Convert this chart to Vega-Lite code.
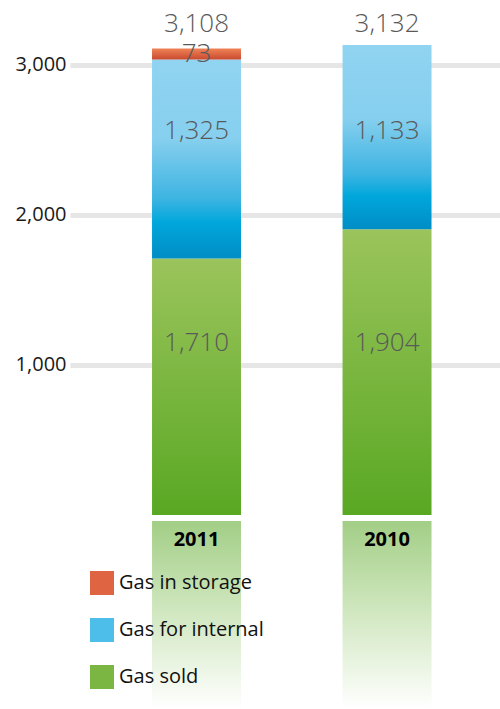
{
  "$schema": "https://vega.github.io/schema/vega-lite/v6.json",
  "width": 430,
  "height": 709,
  "autosize": {"type": "none"},
  "padding": {"left": 70, "top": 0, "right": 0, "bottom": 0},
  "background": "white",
  "config": {
    "view": {"stroke": null},
    "font": "Open Sans"
  },
  "datasets": {
    "gas": [
      {"year": "2011", "series": "Gas sold", "value": 1710, "label": "1,710"},
      {"year": "2011", "series": "Gas for internal", "value": 1325, "label": "1,325"},
      {"year": "2011", "series": "Gas in storage", "value": 73, "label": "73"},
      {"year": "2010", "series": "Gas sold", "value": 1904, "label": "1,904"},
      {"year": "2010", "series": "Gas for internal", "value": 1228, "label": "1,133"}
    ]
  },
  "data": {"name": "gas"},
  "encoding": {
    "x": {
      "field": "year",
      "type": "nominal",
      "sort": ["2011", "2010"],
      "axis": null,
      "scale": {"paddingInner": 0.533, "paddingOuter": 0.395, "align": 0.545}
    }
  },
  "layer": [
    {
      "mark": {"type": "bar", "opacity": 0},
      "encoding": {
        "y": {
          "field": "value",
          "type": "quantitative",
          "stack": "zero",
          "scale": {"domain": [-1293, 3432], "nice": false, "zero": false},
          "axis": {"values": [1000, 2000, 3000], "format": ",d", "title": null, "labelFontSize": 20, "labelColor": "#1a1a1a", "labelPadding": 4, "ticks": false, "domain": false, "gridColor": "#e6e6e6", "gridWidth": 5}
        },
        "color": {
          "field": "series",
          "type": "nominal",
          "scale": {
            "domain": ["Gas in storage", "Gas for internal", "Gas sold"],
            "range": ["#de6442", "#4dbde9", "#7cb642"]
          },
          "legend": {
            "title": null,
            "orient": "none",
            "legendX": 20,
            "legendY": 571,
            "symbolType": "square",
            "symbolSize": 576,
            "symbolStrokeWidth": 0,
            "symbolOpacity": 1,
            "labelFontSize": 20,
            "labelFont": "Open Sans",
            "labelFontWeight": 500,
            "labelColor": "#111111",
            "rowPadding": 23,
            "labelOffset": 5,
            "padding": 0
          }
        },
        "order": {"field": "value", "sort": "descending"}
      }
    },
    {
      "mark": {"type": "bar"},
      "encoding": {
        "y": {
          "field": "value",
          "type": "quantitative",
          "stack": "zero",
          "axis": {"values": [1000, 2000, 3000], "format": ",d", "title": null, "labelFontSize": 20, "labelColor": "#1a1a1a", "labelPadding": 4, "ticks": false, "domain": false, "gridColor": "#e6e6e6", "gridWidth": 5}
        },
        "fill": {
          "condition": [
            {"test": "datum.series === 'Gas in storage'", "value": {"gradient": "linear", "x1": 0, "y1": 0, "x2": 0, "y2": 1,
              "stops": [{"offset": 0, "color": "#ef8257"}, {"offset": 1, "color": "#c94a2e"}]}},
            {"test": "datum.series === 'Gas for internal'", "value": {"gradient": "linear", "x1": 0, "y1": 0, "x2": 0, "y2": 1,
              "stops": [{"offset": 0, "color": "#90d4f1"}, {"offset": 0.4, "color": "#86cfee"}, {"offset": 0.7, "color": "#3db4e2"}, {"offset": 0.82, "color": "#00a7db"}, {"offset": 1, "color": "#008dc5"}]}}
          ],
          "value": {"gradient": "linear", "x1": 0, "y1": 0, "x2": 0, "y2": 1,
            "stops": [{"offset": 0, "color": "#9bc45c"}, {"offset": 1, "color": "#59a823"}]}
        },
        "order": {"field": "value", "sort": "descending"}
      }
    },
    {
      "transform": [{"aggregate": [{"op": "sum", "field": "value", "as": "total"}], "groupby": ["year"]}],
      "mark": {
        "type": "bar",
        "fill": {"gradient": "linear", "x1": 0, "y1": 0, "x2": 0, "y2": 1,
          "stops": [{"offset": 0, "color": "#a3ce86"}, {"offset": 0.5, "color": "#d2e8c2"}, {"offset": 1, "color": "#ffffff"}]}
      },
      "encoding": {
        "y": {"datum": -40, "type": "quantitative", "axis": {"values": [1000, 2000, 3000], "format": ",d", "title": null, "labelFontSize": 20, "labelColor": "#1a1a1a", "labelPadding": 4, "ticks": false, "domain": false, "gridColor": "#e6e6e6", "gridWidth": 5}},
        "y2": {"datum": -1293}
      }
    },
    {
      "transform": [{"filter": "datum.series === 'Gas sold'"}],
      "mark": {"type": "text", "fontSize": 26, "fontWeight": 300, "color": "#595959", "baseline": "middle"},
      "encoding": {
        "y": {"datum": 1146, "type": "quantitative", "axis": {"values": [1000, 2000, 3000], "format": ",d", "title": null, "labelFontSize": 20, "labelColor": "#1a1a1a", "labelPadding": 4, "ticks": false, "domain": false, "gridColor": "#e6e6e6", "gridWidth": 5}},
        "text": {"field": "label"}
      }
    },
    {
      "transform": [{"filter": "datum.series === 'Gas for internal'"}],
      "mark": {"type": "text", "fontSize": 26, "fontWeight": 300, "color": "#595959", "baseline": "middle"},
      "encoding": {
        "y": {"datum": 2559, "type": "quantitative", "axis": {"values": [1000, 2000, 3000], "format": ",d", "title": null, "labelFontSize": 20, "labelColor": "#1a1a1a", "labelPadding": 4, "ticks": false, "domain": false, "gridColor": "#e6e6e6", "gridWidth": 5}},
        "text": {"field": "label"}
      }
    },
    {
      "transform": [{"filter": "datum.series === 'Gas in storage'"}],
      "mark": {"type": "text", "fontSize": 26, "fontWeight": 300, "color": "#595959", "baseline": "middle"},
      "encoding": {
        "y": {"datum": 3070, "type": "quantitative", "axis": {"values": [1000, 2000, 3000], "format": ",d", "title": null, "labelFontSize": 20, "labelColor": "#1a1a1a", "labelPadding": 4, "ticks": false, "domain": false, "gridColor": "#e6e6e6", "gridWidth": 5}},
        "text": {"field": "label"}
      }
    },
    {
      "transform": [{"aggregate": [{"op": "sum", "field": "value", "as": "total"}], "groupby": ["year"]}],
      "mark": {"type": "text", "fontSize": 26, "fontWeight": 300, "color": "#595959", "baseline": "middle"},
      "encoding": {
        "y": {"datum": 3272, "type": "quantitative", "axis": {"values": [1000, 2000, 3000], "format": ",d", "title": null, "labelFontSize": 20, "labelColor": "#1a1a1a", "labelPadding": 4, "ticks": false, "domain": false, "gridColor": "#e6e6e6", "gridWidth": 5}},
        "text": {"field": "total", "type": "quantitative", "format": ",d"}
      }
    },
    {
      "transform": [{"aggregate": [{"op": "sum", "field": "value", "as": "total"}], "groupby": ["year"]}],
      "mark": {"type": "text", "fontSize": 20, "fontWeight": "bold", "color": "#000000", "baseline": "middle"},
      "encoding": {
        "y": {"datum": -167, "type": "quantitative", "axis": {"values": [1000, 2000, 3000], "format": ",d", "title": null, "labelFontSize": 20, "labelColor": "#1a1a1a", "labelPadding": 4, "ticks": false, "domain": false, "gridColor": "#e6e6e6", "gridWidth": 5}},
        "text": {"field": "year"}
      }
    }
  ]
}
